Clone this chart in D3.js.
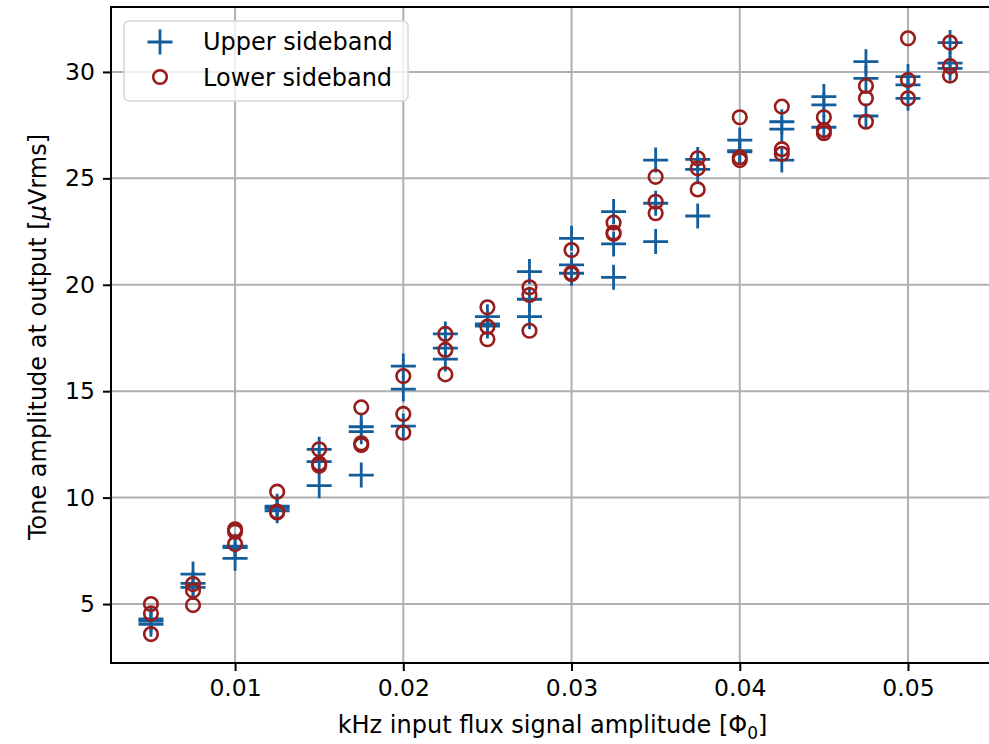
<!DOCTYPE html>
<html>
<head>
<meta charset="utf-8">
<script src="https://cdn.jsdelivr.net/npm/d3@7"></script>
<style>
  body { margin: 0; background: #fff; }
  svg { font-family: "DejaVu Sans", sans-serif; }
</style>
</head>
<body>
<div id="plot"></div>
<script>
var width = 989;
var height = 744;

// flux amplitudes (Phi_0)
var amplitudes = [0.005, 0.0075, 0.01, 0.0125, 0.015, 0.0175, 0.02, 0.0225, 0.025, 0.0275,
                  0.03, 0.0325, 0.035, 0.0375, 0.04, 0.0425, 0.045, 0.0475, 0.05, 0.0525];

// three repeated measurements per amplitude (uVrms)
var upper = [
    [4.3, 4.2, 4.05], [6.41, 5.97, 5.78], [7.72, 7.65, 7.15], [9.6, 9.5, 9.38],
    [12.27, 11.69, 10.56], [13.33, 13.1, 11.06], [16.18, 15.1, 13.36], [17.69, 17.02, 16.51],
    [18.5, 18.16, 18.06], [20.62, 19.32, 18.5], [22.18, 20.93, 20.54], [23.44, 21.92, 20.35],
    [25.86, 23.83, 22.03], [25.89, 25.42, 23.23], [26.8, 26.3, 26.25], [27.66, 27.31, 25.86],
    [28.84, 28.45, 27.4], [30.48, 29.7, 27.93], [29.78, 29.39, 28.76], [31.38, 30.41, 30.17]
];
var lower = [
    [5.0, 4.56, 3.59], [5.94, 5.63, 4.95], [8.51, 8.4, 7.82], [10.28, 9.34, 9.3],
    [12.27, 11.6, 11.5], [14.24, 12.55, 12.47], [15.71, 13.93, 13.05], [17.69, 16.94, 15.79],
    [18.94, 18.03, 17.44], [19.88, 19.52, 17.84], [21.63, 20.5, 20.55], [22.92, 22.39, 22.45],
    [25.07, 23.9, 23.36], [25.94, 25.47, 24.48], [27.87, 25.99, 25.86], [28.37, 26.37, 26.15],
    [27.87, 27.27, 27.12], [29.34, 28.76, 27.66], [31.58, 29.62, 28.76], [31.38, 30.27, 29.83]
];

var x_ticks = [0.01, 0.02, 0.03, 0.04, 0.05];
var y_ticks = [5, 10, 15, 20, 25, 30];

var blue = '#135d9b';
var red = '#971c1c';

var ax_left = 111, ax_right = 990, ax_top = 7, ax_bottom = 663;

var canvas = d3.select('#plot')
    .append('svg')
    .attr('width', width)
    .attr('height', height);

var x_scale = d3.scaleLinear()
    .domain([0.002625, 0.054875])
    .range([ax_left, ax_right]);

var y_scale = d3.scaleLinear()
    .domain([2.23, 33.05])
    .range([ax_bottom, ax_top]);

// grid
canvas.append('g').selectAll('line.vgrid')
    .data(x_ticks).enter().append('line')
    .attr('x1', d => x_scale(d)).attr('x2', d => x_scale(d))
    .attr('y1', ax_top).attr('y2', ax_bottom)
    .style('stroke', '#b0b0b0').style('stroke-width', 2);
canvas.append('g').selectAll('line.hgrid')
    .data(y_ticks).enter().append('line')
    .attr('x1', ax_left).attr('x2', ax_right)
    .attr('y1', d => y_scale(d)).attr('y2', d => y_scale(d))
    .style('stroke', '#b0b0b0').style('stroke-width', 2);

// axes
var x_axis = d3.axisBottom(x_scale).tickValues(x_ticks).tickFormat(d3.format('.2f'))
    .tickSize(8).tickPadding(8);
var y_axis = d3.axisLeft(y_scale).tickValues(y_ticks).tickFormat(d3.format('d'))
    .tickSize(8).tickPadding(8);

var gx = canvas.append('g').attr('transform', 'translate(0,' + ax_bottom + ')').call(x_axis);
var gy = canvas.append('g').attr('transform', 'translate(' + ax_left + ',0)').call(y_axis);
[gx, gy].forEach(function(g) {
    g.select('.domain').remove();
    g.selectAll('line').style('stroke', '#000').style('stroke-width', 2);
    g.selectAll('text').style('font-size', '23.5px').style('fill', '#000')
        .style('font-family', '"DejaVu Sans", sans-serif');
});

// points
var flat_upper = [], flat_lower = [];
amplitudes.forEach(function(a, i) {
    upper[i].forEach(function(v) { flat_upper.push({x: a, y: v}); });
    lower[i].forEach(function(v) { flat_lower.push({x: a, y: v}); });
});

var cross = 12.5;
var plot = canvas.append('g');
plot.selectAll('path.up')
    .data(flat_upper).enter().append('path')
    .attr('d', function(d) {
        var cx = x_scale(d.x), cy = y_scale(d.y);
        return 'M' + (cx - cross) + ',' + cy + 'H' + (cx + cross) +
               'M' + cx + ',' + (cy - cross) + 'V' + (cy + cross);
    })
    .style('stroke', blue).style('stroke-width', 2.8).style('fill', 'none');

plot.selectAll('circle.low')
    .data(flat_lower).enter().append('circle')
    .attr('cx', d => x_scale(d.x))
    .attr('cy', d => y_scale(d.y))
    .attr('r', 6.8)
    .style('stroke', red).style('stroke-width', 2.6).style('fill', 'none');

// spines
canvas.append('rect')
    .attr('x', ax_left).attr('y', ax_top)
    .attr('width', ax_right - ax_left).attr('height', ax_bottom - ax_top)
    .style('fill', 'none').style('stroke', '#000').style('stroke-width', 2);

// legend
var lg = canvas.append('g');
lg.append('rect')
    .attr('x', 124).attr('y', 21).attr('width', 284).attr('height', 80)
    .attr('rx', 5)
    .style('fill', 'rgba(255,255,255,0.8)').style('stroke', '#d6d6d6').style('stroke-width', 1.5);
lg.append('path')
    .attr('d', 'M' + (160 - cross) + ',42H' + (160 + cross) + 'M160,' + (42 - cross) + 'V' + (42 + cross))
    .style('stroke', blue).style('stroke-width', 2.8);
lg.append('circle').attr('cx', 160).attr('cy', 77).attr('r', 6.8)
    .style('stroke', red).style('stroke-width', 2.6).style('fill', 'none');
lg.append('text').attr('x', 203).attr('y', 50).text('Upper sideband')
    .style('font-size', '24px');
lg.append('text').attr('x', 203).attr('y', 86).text('Lower sideband')
    .style('font-size', '24px');

// axis labels
var xl = canvas.append('text')
    .attr('x', (ax_left + ax_right) / 2 + 2).attr('y', 733)
    .attr('text-anchor', 'middle')
    .style('font-size', '24px');
xl.append('tspan').text('kHz input flux signal amplitude [Φ');
xl.append('tspan').attr('dy', 6).style('font-size', '17px').text('0');
xl.append('tspan').attr('dy', -6).text(']');

var yl = canvas.append('text')
    .attr('transform', 'translate(46,' + ((ax_top + ax_bottom) / 2 + 2) + ') rotate(-90)')
    .attr('text-anchor', 'middle')
    .style('font-size', '24px');
yl.append('tspan').text('Tone amplitude at output [');
yl.append('tspan').style('font-style', 'italic').text('μ');
yl.append('tspan').text('Vrms]');
</script>
</body>
</html>
